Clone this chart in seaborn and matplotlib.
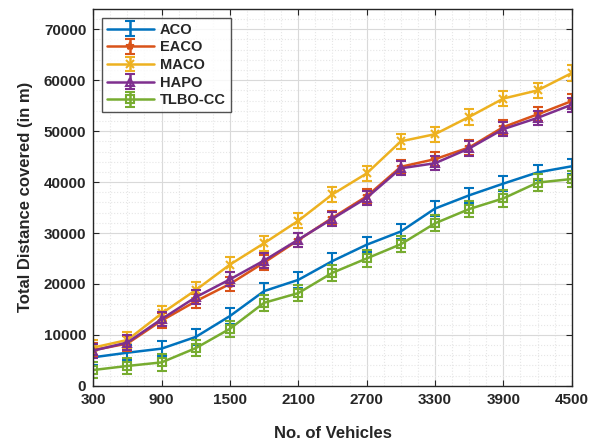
#!/usr/bin/env python3
"""Total distance covered vs. number of vehicles, with error bars."""

import numpy as np
import pandas as pd
import matplotlib
matplotlib.use("Agg")
import matplotlib.pyplot as plt
from matplotlib.ticker import MultipleLocator
import seaborn as sns

# Data
vehicles = [300, 600, 900, 1200, 1500, 1800, 2100, 2400, 2700, 3000,
            3300, 3600, 3900, 4200, 4500]
aco = [5600, 6500, 7300, 9600, 13700, 18600, 20800, 24500, 27700, 30300,
       34800, 37400, 39700, 41900, 43100]
eaco = [7000, 8300, 12800, 16600, 20000, 24200, 28600, 33000, 37200, 43000,
        44500, 46800, 50800, 53300, 55900]
maco = [7500, 9000, 14200, 18800, 23800, 28000, 32400, 37600, 41700, 48000,
        49400, 52800, 56400, 58000, 61400]
hapo = [6900, 8500, 13100, 17400, 20900, 24600, 28700, 32800, 36900, 42700,
        43700, 46600, 50400, 52600, 55200]
tlbo_cc = [3100, 3900, 4600, 7400, 11200, 16300, 18200, 22200, 25000, 27800,
           31900, 34700, 36800, 39900, 40600]
algorithms = ["ACO", "EACO", "MACO", "HAPO", "TLBO-CC"]
errors = [1500, 1400, 1500, 1400, 1600]
x_ticks = [300, 900, 1500, 2100, 2700, 3300, 3900, 4500]
y_ticks = [0, 10000, 20000, 30000, 40000, 50000, 60000, 70000]

series = [aco, eaco, maco, hapo, tlbo_cc]
colors = ["#0072BD", "#D95319", "#EDB120", "#7E2F8E", "#77AC30"]
markers = ["", "*", "x", "^", "s"]

# long-form table: each point stored as y-err, y, y+err so that a 100%
# percentile interval gives exactly the error bar
rows = []
for name, vals, err in zip(algorithms, series, errors):
    for x, y in zip(vehicles, vals):
        for d in (-err, 0, err):
            rows.append({"Algorithm": name, "Vehicles": x, "Distance": y + d})
df = pd.DataFrame(rows)

sns.set_theme(style="whitegrid")
plt.rcParams["font.family"] = ["Liberation Sans", "DejaVu Sans"]
plt.rcParams["font.weight"] = "bold"

fig = plt.figure(figsize=(5.9, 4.45), dpi=100)
ax = fig.add_axes([0.158, 0.133, 0.811, 0.847])

handles = []
for name, color, marker in zip(algorithms, colors, markers):
    sub = df[df["Algorithm"] == name]
    sns.lineplot(data=sub, x="Vehicles", y="Distance", color=color,
                 marker=marker if marker else None, markersize=6,
                 markerfacecolor="none", markeredgecolor=color,
                 markeredgewidth=1.5, linewidth=1.8,
                 errorbar=("pi", 100), err_style="bars",
                 err_kws={"capsize": 3.5, "elinewidth": 1.5, "capthick": 1.5},
                 legend=False, ax=ax)
    h = ax.errorbar([np.nan], [np.nan], yerr=[1], color=color,
                    marker=marker if marker else None, markersize=6,
                    markerfacecolor="none", markeredgewidth=1.5,
                    linewidth=1.8, capsize=3.5, capthick=1.5, label=name)
    handles.append(h)

ax.set_xlim(300, 4500)
ax.set_ylim(0, 74000)
ax.set_xticks(x_ticks)
ax.set_yticks(y_ticks)
ax.xaxis.set_minor_locator(MultipleLocator(150))
ax.yaxis.set_minor_locator(MultipleLocator(2000))

ax.grid(which="major", color="#d9d9d9", linestyle="-", linewidth=0.8)
ax.grid(which="minor", color="#e6e6e6", linestyle=":", linewidth=0.8)
ax.set_axisbelow(True)

for side in ["left", "right", "top", "bottom"]:
    ax.spines[side].set_visible(True)
    ax.spines[side].set_color("#262626")
    ax.spines[side].set_linewidth(1.0)

ax.tick_params(which="major", direction="in", length=4, width=0.8,
               top=True, right=True, bottom=True, left=True,
               colors="#262626", labelsize=11, pad=5)
ax.tick_params(which="minor", length=0)
for lbl in ax.get_xticklabels() + ax.get_yticklabels():
    lbl.set_fontweight("bold")

ax.set_xlabel("No. of Vehicles", fontsize=12, fontweight="bold",
              color="#262626", labelpad=14)
ax.set_ylabel("Total Distance covered (in m)", fontsize=12,
              fontweight="bold", color="#262626", labelpad=8)

leg = ax.legend(handles=handles, loc="upper left", fontsize=10.5,
                frameon=True, fancybox=False, borderaxespad=0.6,
                handlelength=3.2, handletextpad=0.4, labelspacing=0.25,
                borderpad=0.35)
leg.get_frame().set_edgecolor("#262626")
leg.get_frame().set_linewidth(1.0)
for t in leg.get_texts():
    t.set_fontweight("bold")

fig.savefig("out.png", dpi=100)
